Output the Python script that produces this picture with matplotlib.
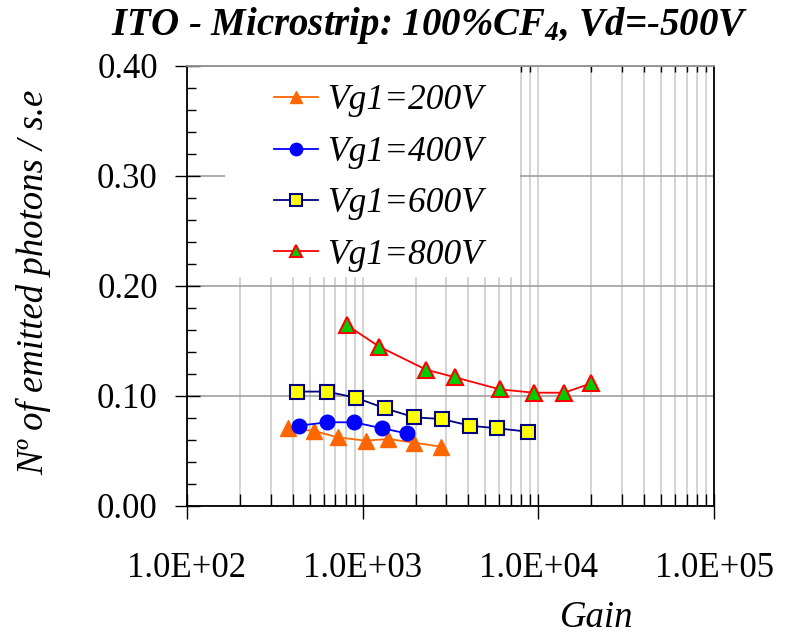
import matplotlib
matplotlib.use('Agg')
import matplotlib.pyplot as plt
from matplotlib.patches import Rectangle
from matplotlib.ticker import LogLocator, MultipleLocator, FuncFormatter

plt.rcParams['font.family'] = ['Liberation Serif', 'DejaVu Serif']
plt.rcParams['mathtext.fontset'] = 'custom'
plt.rcParams['mathtext.rm'] = 'Liberation Serif:italic:bold'
plt.rcParams['mathtext.it'] = 'Liberation Serif:italic:bold'

# data
gain_200 = [378, 531, 721, 1040, 1400, 1968, 2780]
phot_200 = [0.0706, 0.0682, 0.0624, 0.0594, 0.0609, 0.0576, 0.0539]

gain_400 = [434, 624, 893, 1294, 1782]
phot_400 = [0.0730, 0.0761, 0.0761, 0.0706, 0.0660]

gain_600 = [425, 624, 912, 1340, 1968, 2818, 4083, 5840, 8690]
phot_600 = [0.1040, 0.1040, 0.0985, 0.0888, 0.0806, 0.0791, 0.0730, 0.0706, 0.0676]

gain_800 = [811, 1238, 2291, 3357, 6053, 9445, 14050, 19950]
phot_800 = [0.1645, 0.1450, 0.1240, 0.1170, 0.1060, 0.1030, 0.1030, 0.1115]

labels = ['Vg1=200V', 'Vg1=400V', 'Vg1=600V', 'Vg1=800V']

fig = plt.figure(figsize=(7.96, 6.35), dpi=100)
ax = fig.add_axes([187/796, 1-506/635, 527/796, 440/635])

ax.set_xscale('log')
ax.set_xlim(1e2, 1e5)
ax.set_ylim(0, 0.40)

# grid
ax.set_axisbelow(True)
ax.xaxis.set_major_locator(LogLocator(base=10, numticks=10))
ax.xaxis.set_minor_locator(LogLocator(base=10, subs=range(2, 10), numticks=30))
ax.yaxis.set_major_locator(MultipleLocator(0.1))
ax.yaxis.set_minor_locator(MultipleLocator(0.02))
ax.grid(True, which='major', axis='y', color='#a0a0a0', lw=1.2)
ax.grid(True, which='both', axis='x', color='#cccccc', lw=1.2)

# white box behind legend
ax.add_patch(Rectangle((0.072, 0.52), 0.56, 0.48, transform=ax.transAxes,
                       facecolor='white', edgecolor='none', zorder=1))

ax.plot(gain_200, phot_200, '-^', color='#ff6600', mfc='#ff6600', mec='#ff6600',
        ms=11, lw=1.3, label=labels[0], zorder=3)
ax.plot(gain_400, phot_400, '-o', color='#0000ff', mfc='#0000ff', mec='#0000ff',
        ms=10.5, lw=1.3, label=labels[1], zorder=3)
ax.plot(gain_600, phot_600, '-s', color='#000080', mfc='#ffff00', mec='#000080',
        ms=10, mew=1.5, lw=1.3, label=labels[2], zorder=3)
ax.plot(gain_800, phot_800, '-^', color='#ff0000', mfc='#00cc00', mec='#ff0000',
        ms=11, mew=1.5, lw=1.3, label=labels[3], zorder=3)

ax.xaxis.set_major_formatter(FuncFormatter(lambda v, p: '%.1E' % v))
ax.xaxis.set_minor_formatter(FuncFormatter(lambda v, p: ''))
ax.yaxis.set_major_formatter(FuncFormatter(lambda v, p: '%.2f' % v))

ax.tick_params(axis='both', which='major', labelsize=25, direction='inout',
               length=18, width=1, color='black')
ax.tick_params(axis='x', which='major', pad=24)
ax.tick_params(axis='y', which='major', pad=12)
ax.tick_params(axis='both', which='minor', direction='in', length=9, width=1)
ax.tick_params(axis='y', which='minor', length=6.5)
ax.tick_params(axis='x', which='both', top=True)
for t in ax.xaxis.get_minor_ticks():
    t.tick2line.set_markersize(4.5)
for t in ax.xaxis.get_major_ticks():
    t.tick2line.set_markersize(0)

for s in ['left', 'bottom', 'right']:
    ax.spines[s].set_color('black')
ax.spines['top'].set_color('#909090')
for s in ax.spines.values():
    s.set_linewidth(1.3)

leg = ax.legend(loc='upper left', bbox_to_anchor=(0.165, 0.958), frameon=False,
                prop={'style': 'italic', 'size': 25.5}, handlelength=1.25,
                handletextpad=0.25, labelspacing=0.52, borderaxespad=0,
                borderpad=0, markerscale=0.85)

fig.text(34/796, 1-282/635, 'Nº of emitted photons / s.e', fontsize=26.5,
         style='italic', rotation=90, ha='center', va='center')
fig.text(597/796, 1-618/635, 'Gain', fontsize=26.5, style='italic', ha='center', va='center')
fig.text(430/796, 1-25/635, r'ITO - Microstrip: 100%CF$_{4}$, Vd=-500V',
         fontsize=28, style='italic', weight='bold', ha='center', va='center')

fig.savefig('out.png', dpi=100)
